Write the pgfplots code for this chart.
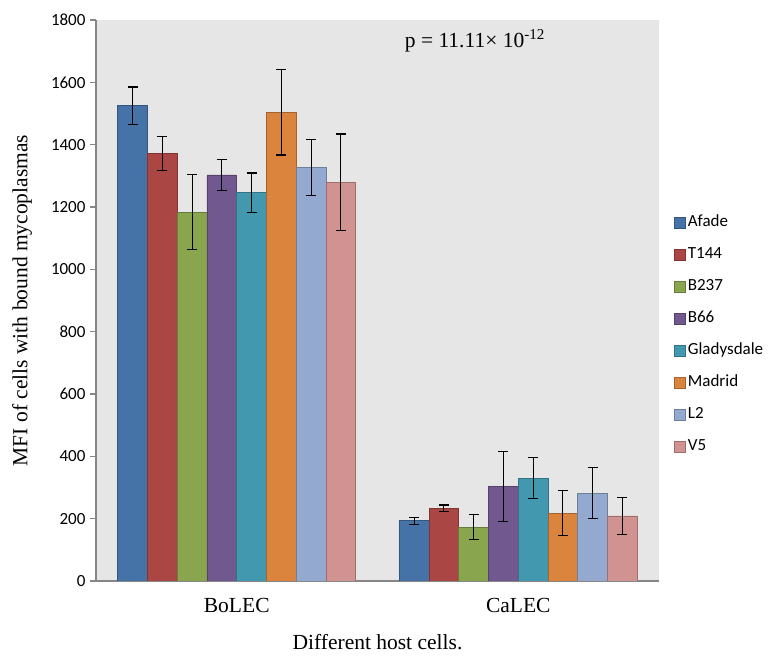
\documentclass[border=0pt]{standalone}
\usepackage{fontspec}
\setmainfont{Liberation Serif}
\newfontfamily\calibri{Carlito}
\usepackage{pgfplots}
\pgfplotsset{compat=1.18}

\definecolor{cAfade}{HTML}{4572A7}
\definecolor{cT}{HTML}{AA4643}
\definecolor{cBtt}{HTML}{89A54E}
\definecolor{cBss}{HTML}{71588F}
\definecolor{cGlad}{HTML}{4198AF}
\definecolor{cMad}{HTML}{DB843D}
\definecolor{cL}{HTML}{93A9CF}
\definecolor{cV}{HTML}{D19392}
\definecolor{plotbg}{HTML}{E6E6E6}
\definecolor{axgray}{HTML}{868686}

\pgfplotsset{
  eb/.style={
    error bars/y dir=both, error bars/y explicit,
    error bars/error bar style={black, line width=1.2pt},
    error bars/error mark options={rotate=90, black, mark size=5pt, line width=1.2pt}},
  barstyle/.style={fill=#1, draw=#1!75!black, line width=0.7pt, eb},
}

\begin{document}
\begin{tikzpicture}[x=1pt,y=1pt]
\useasboundingbox (0,0) rectangle (769,666);
\begin{axis}[
  at={(96pt,85pt)}, anchor=south west,
  scale only axis, width=563pt, height=561pt,
  ybar=0pt, bar width=29.75pt,
  xmin=-0.5, xmax=1.5, ymin=0, ymax=1800,
  ytick={0,200,...,1800},
  xtick={0,1}, xticklabels={BoLEC,CaLEC},
  minor xtick={-0.5,0.5,1.5},
  xtick style={draw=none},
  axis x line*=bottom, axis y line*=left,
  axis line style={draw=axgray, line width=1.3pt, -},
  every tick/.style={draw=axgray, line width=1.1pt},
  tick align=outside,
  major tick length=6pt, minor tick length=6pt,
  axis background/.style={fill=plotbg},
  /pgf/number format/assume math mode=true,
  /pgf/number format/1000 sep={},
  yticklabel style={font=\calibri\fontsize{17}{17}\selectfont, xshift=-1pt},
  xticklabel style={font=\fontsize{21.5}{22}\selectfont, anchor=center, yshift=-18.5pt},
  ylabel={MFI of cells with bound mycoplasmas},
  xlabel={Different host cells.},
  label style={font=\fontsize{21.5}{22}\selectfont},
  ylabel style={at={(axis description cs:-0.131,0.5)}, anchor=center},
  xlabel style={at={(axis description cs:0.5,-0.108)}, anchor=center},
  legend style={at={(1.0266,0.6565)}, anchor=north west, draw=none, fill=none,
    inner sep=0pt, row sep=12pt,
    font=\calibri\fontsize{17}{17}\selectfont,
    nodes={inner sep=2pt, text height=12pt, text depth=4pt}},
  legend cell align=left,
  legend image code/.code={\draw[#1] (0pt,-5.5pt) rectangle (11pt,5.5pt);},
]
\addplot[barstyle=cAfade] coordinates {(0,1525) +- (0,60) (1,193) +- (0,12)};
\addplot[barstyle=cT] coordinates {(0,1371) +- (0,55) (1,233) +- (0,11)};
\addplot[barstyle=cBtt] coordinates {(0,1183) +- (0,120) (1,173) +- (0,41)};
\addplot[barstyle=cBss] coordinates {(0,1303) +- (0,49) (1,303) +- (0,113)};
\addplot[barstyle=cGlad] coordinates {(0,1246) +- (0,63) (1,330) +- (0,66)};
\addplot[barstyle=cMad] coordinates {(0,1504) +- (0,137) (1,218) +- (0,72)};
\addplot[barstyle=cL] coordinates {(0,1327) +- (0,89) (1,282) +- (0,82)};
\addplot[barstyle=cV] coordinates {(0,1279) +- (0,155) (1,209) +- (0,59)};
\legend{Afade,T144,B237,B66,Gladysdale,Madrid,L2,V5}
\node[font=\fontsize{21.5}{22}\selectfont] at (rel axis cs:0.673,0.963) {p = 11.11× 10\textsuperscript{-12}};
\end{axis}
\end{tikzpicture}
\end{document}
